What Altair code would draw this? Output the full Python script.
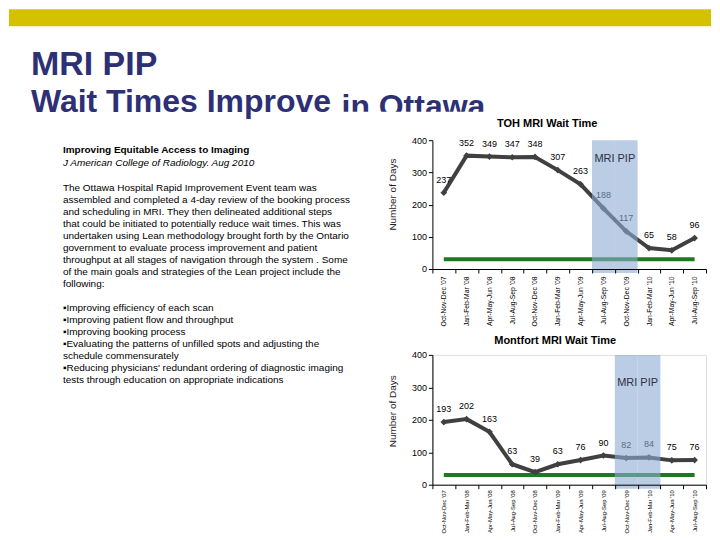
import altair as alt
import pandas as pd

# ---------------- data ----------------
periods = ["Oct-Nov-Dec '07", "Jan-Feb-Mar '08", "Apr-May-Jun '08", "Jul-Aug-Sep '08",
           "Oct-Nov-Dec '08", "Jan-Feb-Mar '09", "Apr-May-Jun '09", "Jul-Aug-Sep '09",
           "Oct-Nov-Dec '09", "Jan-Feb-Mar '10", "Apr-May-Jun '10", "Jul-Aug-Sep '10"]
toh_days = [237, 352, 349, 347, 348, 307, 263, 188, 117, 65, 58, 96]
montfort_days = [193, 202, 163, 63, 39, 63, 76, 90, 82, 84, 75, 76]
target_days = 30
toh_pip_periods = ["Jul-Aug-Sep '09", "Oct-Nov-Dec '09"]
montfort_pip_periods = ["Oct-Nov-Dec '09", "Jan-Feb-Mar '10"]
y_ticks = [0, 100, 200, 300, 400]

slide_title_1 = "MRI PIP"
slide_title_2a = "Wait Times Improve"
slide_title_2b = "in Ottawa"
article_title = "Improving Equitable Access to Imaging"
article_source = "J American College of Radiology. Aug 2010"
paragraph_lines = [
    "The Ottawa Hospital Rapid Improvement Event team was",
    "assembled and completed a 4-day review of the booking process",
    "and scheduling in MRI. They then delineated additional steps",
    "that could be initiated to potentially reduce wait times.  This was",
    "undertaken using Lean methodology brought forth by the Ontario",
    "government to evaluate process improvement and patient",
    "throughput at all stages of navigation through the system .  Some",
    "of the main goals and strategies of the Lean project include the",
    "following:",
]
bullet_lines = [
    "\u25aaImproving efficiency of each scan",
    "\u25aaImproving patient flow and throughput",
    "\u25aaImproving booking process",
    "\u25aaEvaluating the patterns of unfilled spots and adjusting the",
    "schedule commensurately",
    "\u25aaReducing physicians' redundant ordering of diagnostic imaging",
    "tests through education on appropriate indications",
]

# ---------------- styling ----------------
FONT = "Liberation Sans"
W = 274
H1 = 129
H2 = 130
NAVY = "#2E3075"
LINE = "#404040"
GREEN = "#1E7A1E"
SHADE = "#8CACD4"


def make_xenc(label_size, label_pad):
    def xenc(**kw):
        return alt.X(
            "period:N", sort=periods,
            scale=alt.Scale(type="band", paddingInner=0, paddingOuter=0),
            axis=alt.Axis(title=None, labelAngle=-90, labelFontSize=label_size,
                          labelColor="black", labelFont=FONT, tickBand="extent",
                          tickSize=4, tickColor="black", domainColor="black",
                          labelPadding=label_pad, zindex=1),
            **kw)
    return xenc


def yenc(title_y):
    return alt.Y(
        "days:Q", scale=alt.Scale(domain=[0, 400], nice=False),
        axis=alt.Axis(values=y_ticks, title="Number of Days", titleFontSize=10,
                      titleFontWeight="normal", titleColor="#222222", titleFont=FONT,
                      titleX=-35, titleY=title_y, labelFontSize=9, labelColor="black",
                      labelFont=FONT, tickSize=4, tickColor="black", domainColor="black",
                      grid=False, labelPadding=2, zindex=1))


def text_layer(text, x, y, size, weight="normal", style="normal", color="black",
               align="left", baseline="alphabetic", line_height=12):
    return alt.Chart(pd.DataFrame({"t": [text]})).mark_text(
        font=FONT, fontSize=size, fontWeight=weight, fontStyle=style, color=color,
        align=align, baseline=baseline, lineBreak="\n", lineHeight=line_height
    ).encode(text="t:N", x=alt.value(x), y=alt.value(y))


def rect_layer(x, x2, y, y2, color):
    return alt.Chart(pd.DataFrame({"a": [0]})).mark_rect(color=color).encode(
        x=alt.value(x), x2=alt.value(x2), y=alt.value(y), y2=alt.value(y2))


def panel(title, days, pip_periods, height, title_x, title_y, pip_y, axis_title_y, xenc):
    df = pd.DataFrame({"period": periods, "days": days})
    tgt = pd.DataFrame({"period": [periods[0], periods[-1]],
                        "days": [target_days, target_days]})
    shade_df = pd.DataFrame({"period": pip_periods})
    pip_df = pd.DataFrame({"period": [pip_periods[1]], "t": ["MRI PIP"]})

    title_l = text_layer(title, title_x, title_y, 11, weight="bold",
                         align="center", baseline="middle")
    target = alt.Chart(tgt).mark_line(color=GREEN, strokeWidth=4).encode(
        x=xenc(), y=yenc(axis_title_y))
    line = alt.Chart(df).mark_line(
        color=LINE, strokeWidth=4,
        point=alt.OverlayMarkDef(shape="diamond", size=45, color=LINE, filled=True)
    ).encode(x=xenc(), y=yenc(axis_title_y))
    labels = alt.Chart(df).mark_text(font=FONT, fontSize=9, dy=-13, color="black").encode(
        x=xenc(), y=yenc(axis_title_y), text=alt.Text("days:Q"))
    shade = alt.Chart(shade_df).mark_rect(color=SHADE, opacity=0.6).encode(
        x=xenc(), y=alt.value(0), y2=alt.value(height + 4))
    pip = alt.Chart(pip_df).mark_text(font=FONT, fontSize=11, color="#303040").encode(
        x=xenc(bandPosition=0), y=alt.value(pip_y), text="t:N")
    return [title_l, target, line, labels, shade, pip]


# decorations and slide text placed relative to the TOH plot origin (page 432,139)
deco = [
    rect_layer(-424, 279, -131, -114, "#D4C200"),
    text_layer(slide_title_1, -402, -65, 34, weight="bold", color=NAVY),
    text_layer(slide_title_2a, -402, -28, 32, weight="bold", color=NAVY),
    text_layer(slide_title_2b, -91, -23, 32, weight="bold", color=NAVY),
    rect_layer(-96, 279, -28.5, 191, "white"),
    text_layer(article_title, -370, 13, 10, weight="bold"),
    text_layer(article_source, -370, 26, 10, style="italic"),
    text_layer("\n".join(paragraph_lines), -370, 51, 10),
    text_layer("\n".join(bullet_lines), -370, 171, 10),
]

toh = alt.layer(
    *deco,
    *panel("TOH MRI Wait Time", toh_days, toh_pip_periods, H1, 115, -16, 19, 54,
           make_xenc(6.8, 3))
).properties(width=W, height=H1)

mont = alt.layer(
    *panel("Montfort MRI Wait Time", montfort_days, montfort_pip_periods, H2, 123, -14, 28, 56,
           make_xenc(5.9, 1))
).properties(width=W, height=H2)

chart = alt.vconcat(toh, mont, spacing=86, bounds="flush").properties(
    padding={"left": 0, "top": 0, "right": 0, "bottom": 0}
).configure_view(stroke=None).configure(font=FONT)

chart.save("out.html", embed_options={"renderer": "svg", "actions": False})
